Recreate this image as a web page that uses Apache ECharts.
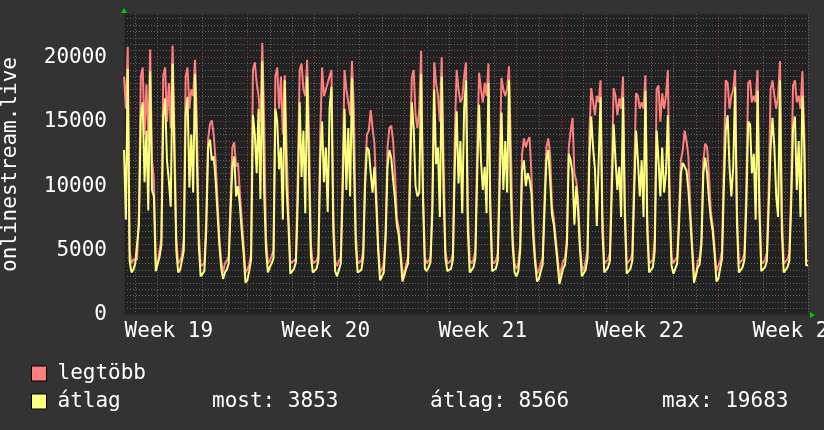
<!DOCTYPE html>
<html>
<head>
<meta charset="utf-8">
<script src="https://cdn.jsdelivr.net/npm/echarts@6/dist/echarts.min.js"></script>
<style>
html, body { margin: 0; padding: 0; background: #333333; }
#output { width: 824px; height: 430px; }
</style>
</head>
<body>
<div id="output"></div>
<script>
const chart = echarts.init(document.getElementById('output'));

// hours counted from Monday 00:00 of week 19, one sample every 2 hours
const startHour = 36
const stepHours = 2
const firstWeek = 19

// legtöbb (max) per week, 12 values a day
const legtobbW19 = [
  18500, 16000, 20800, 5000, 4000, 4300,
  4300, 4300, 8000, 18500, 19200, 14000, 17900, 13500, 20600, 12000, 10500, 4200,
  4000, 5000, 6000, 18600, 19200, 15000, 18000, 14500, 20900, 14000, 6000, 4000,
  4200, 4600, 6000, 18500, 19200, 16000, 17500, 17000, 19800, 15000, 6500, 3800,
  3800, 4000, 7500, 13600, 14800, 15100, 14000, 12000, 9000, 6000, 4200, 3300,
  4000, 4200, 4500, 9000, 13000, 13400, 11500, 11800, 9500, 7500, 5500, 3300
]
const legtobbW20 = [
  3500, 3900, 4800, 19000, 19600, 18000, 17000, 15000, 21100, 15000, 6000, 4000,
  4200, 4300, 5000, 18500, 19200, 16000, 18500, 14000, 18600, 13000, 8000, 4000,
  4000, 4200, 4400, 11000, 19000, 19500, 17500, 17000, 19800, 14000, 5500, 4000,
  4000, 4200, 4600, 14000, 19200, 17000, 17500, 18000, 18000, 19000, 8000, 4200,
  3800, 4200, 4500, 11000, 19000, 17500, 17500, 15500, 19700, 16000, 6500, 4000,
  4000, 4200, 5000, 11000, 14000, 14300, 15900, 14500, 13300, 9500, 5500, 3300,
  3500, 4000, 6500, 13000, 14500, 14700, 13500, 11000, 7500, 6800, 5000, 3500
]
const legtobbW21 = [
  3000, 4000, 4500, 12000, 18400, 19000, 15500, 14500, 16000, 20500, 9500, 4500,
  4000, 4200, 4500, 9000, 19600, 18000, 17000, 15000, 20000, 12000, 5000, 4000,
  4000, 4200, 4800, 14000, 19000, 17500, 16500, 16800, 18500, 19600, 8000, 4200,
  4000, 4300, 5000, 13000, 18800, 17500, 16500, 18000, 17000, 19500, 9000, 4200,
  4000, 4200, 4800, 12000, 18400, 17500, 17000, 17500, 19300, 13000, 6000, 4000,
  3600, 4000, 5500, 12500, 13700, 13000, 13500, 13800, 11000, 7000, 4500, 3200,
  3500, 4000, 4400, 9000, 13000, 13700, 12500, 8500, 7500, 6000, 4500, 3000
]
const legtobbW22 = [
  3000, 4200, 4400, 6000, 13000, 14300, 15300, 11000, 10400, 9000, 5500, 3800,
  3400, 4200, 5000, 14000, 17600, 17500, 15500, 17000, 16500, 18200, 8000, 4000,
  4000, 4300, 4800, 11000, 17600, 17000, 15500, 16800, 16000, 18500, 8500, 4000,
  4000, 4300, 4800, 11000, 17200, 17000, 16000, 16500, 16000, 18600, 7500, 4000,
  4000, 4300, 6000, 17500, 17800, 15000, 17200, 16000, 17000, 19000, 9000, 4500,
  4000, 4300, 4500, 8000, 12000, 12800, 14300, 13500, 12300, 8500, 5500, 3200,
  3000, 4200, 4400, 6000, 12000, 13300, 13000, 11000, 8000, 7000, 5200, 3400
]
const legtobbW23 = [
  3500, 4200, 5000, 12000, 18200, 18000, 16000, 17000, 17500, 19000, 8000, 4000,
  4000, 4300, 4800, 10000, 18000, 18200, 16500, 17000, 16500, 19000, 9000, 4200,
  4000, 4300, 4800, 10000, 17500, 18200, 17000, 16000, 17000, 19700, 8000, 4000,
  4000, 4300, 4800, 10000, 17800, 18200, 16500, 17000, 16000, 18900, 14000, 4200,
  4200
]

// átlag (average) per week
const atlagW19 = [
  12800, 7400, 19100, 4200, 3300, 3500,
  4000, 4000, 7000, 15400, 16500, 10300, 14300, 8100, 18900, 9700, 9200, 3400,
  3400, 4500, 5400, 15400, 16800, 12000, 10400, 8400, 19500, 12000, 5000, 3300,
  3500, 4200, 5000, 15600, 16900, 9900, 14000, 9500, 18700, 12000, 5500, 3000,
  3000, 3400, 6500, 13000, 13600, 12000, 12300, 10500, 8000, 5500, 3700, 2800,
  3300, 3500, 4000, 8000, 11500, 12300, 9200, 10000, 8500, 6500, 4800, 2500
]
const atlagW20 = [
  2700, 3400, 4300, 15500, 14000, 11000, 16000, 9000, 19683, 9500, 5000, 3300,
  3700, 4000, 4400, 16000, 15000, 11300, 13000, 7400, 18200, 9800, 7000, 3200,
  3300, 3600, 4100, 9000, 16500, 10700, 14300, 7900, 18500, 11000, 4600, 3300,
  3300, 3600, 4200, 12000, 15000, 10300, 13000, 8000, 16000, 17700, 6500, 3400,
  3000, 3500, 4000, 9500, 16000, 9700, 14500, 9200, 18400, 12000, 5500, 3300,
  3300, 3500, 4500, 10000, 13000, 12800, 11000, 9500, 11500, 8500, 5000, 2700,
  2800, 3300, 6000, 11500, 12800, 12200, 10500, 9000, 7000, 6200, 4500, 2600
]
const atlagW21 = [
  2500, 3600, 4000, 10000, 16500, 14500, 10000, 9200, 9500, 18700, 9000, 3600,
  3400, 3700, 4100, 8000, 17500, 11700, 13000, 7600, 18500, 9500, 4400, 3400,
  3400, 3600, 4300, 11500, 15800, 10200, 13500, 7900, 16000, 18200, 6500, 3300,
  3300, 3700, 4400, 11000, 16300, 12000, 9700, 11500, 7900, 18000, 8000, 3400,
  3300, 3600, 4200, 10000, 15700, 9700, 13500, 9500, 18200, 9500, 5300, 3300,
  3000, 3400, 5000, 11200, 12000, 10000, 11000, 10500, 9500, 6000, 4000, 2600,
  2800, 3400, 3900, 8000, 12000, 12800, 10500, 7800, 7000, 5500, 4000, 2400
]
const atlagW22 = [
  2400, 3600, 3900, 5500, 12500, 12000, 11000, 7000, 10000, 8000, 5000, 3000,
  2900, 3500, 4400, 12000, 15400, 13000, 11300, 6900, 12000, 16900, 6500, 3300,
  3300, 3700, 4200, 9500, 14800, 12000, 9700, 11500, 7600, 16900, 7500, 3200,
  3300, 3600, 4200, 9500, 14300, 12000, 9200, 12000, 7600, 17400, 6500, 3300,
  3300, 3700, 5000, 14300, 12000, 9200, 13000, 9500, 11000, 15500, 8000, 3800,
  3200, 3600, 4000, 7000, 11000, 11800, 11500, 11200, 9700, 7500, 5000, 2500,
  2400, 3700, 3900, 5500, 11000, 12200, 11000, 9000, 7500, 6500, 4800, 2600
]
const atlagW23 = [
  2800, 3600, 4400, 10000, 14300, 15500, 11500, 9200, 11500, 17700, 7000, 3300,
  3300, 3700, 4300, 8500, 15000, 14800, 11000, 12500, 7400, 17400, 8000, 3400,
  3300, 3700, 4200, 8500, 13000, 15300, 13000, 9200, 7600, 18200, 6500, 3300,
  3300, 3700, 4200, 8500, 14500, 15400, 9700, 13500, 7600, 17000, 13000, 3853,
  3853
]

const mostValue = 3853
const atlagValue = 8566
const maxValue = 19683

const fontMono = 'DejaVu Sans Mono'
const gridMinor = '#626262'
const gridMajor = '#8a3a3a'

const legtobb = [].concat(legtobbW19, legtobbW20, legtobbW21, legtobbW22, legtobbW23)
const atlag = [].concat(atlagW19, atlagW20, atlagW21, atlagW22, atlagW23)
const hours = legtobb.map((v, i) => startHour + i * stepHours)

const isMidnight = (i, h) => Number(h) % 24 === 0
const isMonday = (i, h) => Number(h) % 168 === 0
const isMidWeek = (i, h) => (Number(h) - 84) % 168 === 0

const dotted = color => ({ show: true, lineStyle: { color, type: [1, 2], width: 1 } })

chart.setOption({
  backgroundColor: '#333333',
  animation: false,
  textStyle: { fontFamily: fontMono },
  grid: {
    left: 124, right: 16, top: 14, bottom: 115,
    containLabel: false,
    outerBoundsMode: 'none',
    show: true, backgroundColor: '#222222', borderWidth: 0
  },
  xAxis: [
    {
      type: 'category',
      data: hours,
      boundaryGap: false,
      axisLine: { lineStyle: { color: '#2e2e2e', width: 2 } },
      axisTick: { show: false },
      splitLine: Object.assign(dotted(gridMinor), { interval: (i, h) => isMidnight(i, h) && !isMonday(i, h) }),
      axisLabel: {
        color: '#ffffff', fontSize: 21, fontFamily: fontMono, margin: 6,
        interval: isMidWeek,
        formatter: h => 'Week ' + (firstWeek + (Number(h) - 84) / 168)
      }
    },
    {
      type: 'category',
      data: hours,
      boundaryGap: false,
      position: 'bottom',
      axisLine: { show: false },
      axisTick: { show: false },
      axisLabel: { show: false },
      splitLine: Object.assign(dotted(gridMajor), { interval: isMonday })
    }
  ],
  yAxis: [
    {
      type: 'value',
      min: 0,
      max: 23350,
      interval: 500,
      position: 'left',
      axisLine: { show: true, lineStyle: { color: '#2e2e2e', width: 2 } },
      axisTick: { show: false },
      axisLabel: { show: false },
      splitLine: Object.assign(dotted(gridMinor), { showMaxLine: false })
    },
    {
      type: 'value',
      min: 0,
      max: 23350,
      interval: 5000,
      position: 'left',
      name: 'onlinestream.live',
      nameLocation: 'middle',
      nameGap: 103,
      nameTextStyle: { color: '#ffffff', fontSize: 21, fontFamily: fontMono },
      axisLine: { show: false },
      axisTick: { show: false },
      splitLine: Object.assign(dotted(gridMajor), { showMaxLine: false }),
      axisLabel: {
        color: '#ffffff', fontSize: 21, fontFamily: fontMono, margin: 17,
        showMaxLabel: false,
        formatter: v => v % 5000 === 0 ? String(v) : ''
      }
    }
  ],
  legend: {
    orient: 'vertical',
    left: 31,
    top: 363,
    padding: 0,
    itemGap: 7,
    itemWidth: 15,
    itemHeight: 15,
    icon: 'rect',
    itemStyle: { borderColor: '#000000', borderWidth: 1 },
    textStyle: { color: '#ffffff', fontSize: 21, lineHeight: 21, fontFamily: fontMono, padding: [0, 0, 0, 6] },
    data: ['legtöbb', 'átlag']
  },
  graphic: [
    { type: 'polygon', shape: { points: [[121, 13], [127, 13], [124, 8]] }, style: { fill: '#00cc00' } },
    { type: 'polygon', shape: { points: [[810, 312], [810, 318], [815, 315]] }, style: { fill: '#00cc00' } },
    { type: 'text', left: 212, top: 391, style: { text: 'most: ' + mostValue, fill: '#ffffff', font: '21px "DejaVu Sans Mono"' } },
    { type: 'text', left: 430, top: 391, style: { text: 'átlag: ' + atlagValue, fill: '#ffffff', font: '21px "DejaVu Sans Mono"' } },
    { type: 'text', left: 662, top: 391, style: { text: 'max: ' + maxValue, fill: '#ffffff', font: '21px "DejaVu Sans Mono"' } }
  ],
  series: [
    {
      name: 'legtöbb', type: 'line', data: legtobb, showSymbol: false,
      lineStyle: { color: '#ff7f7f', width: 2 }, itemStyle: { color: '#ff7f7f' }
    },
    {
      name: 'átlag', type: 'line', data: atlag, showSymbol: false,
      lineStyle: { color: '#ffff7f', width: 2 }, itemStyle: { color: '#ffff7f' }
    }
  ]
})
</script>
</body>
</html>
